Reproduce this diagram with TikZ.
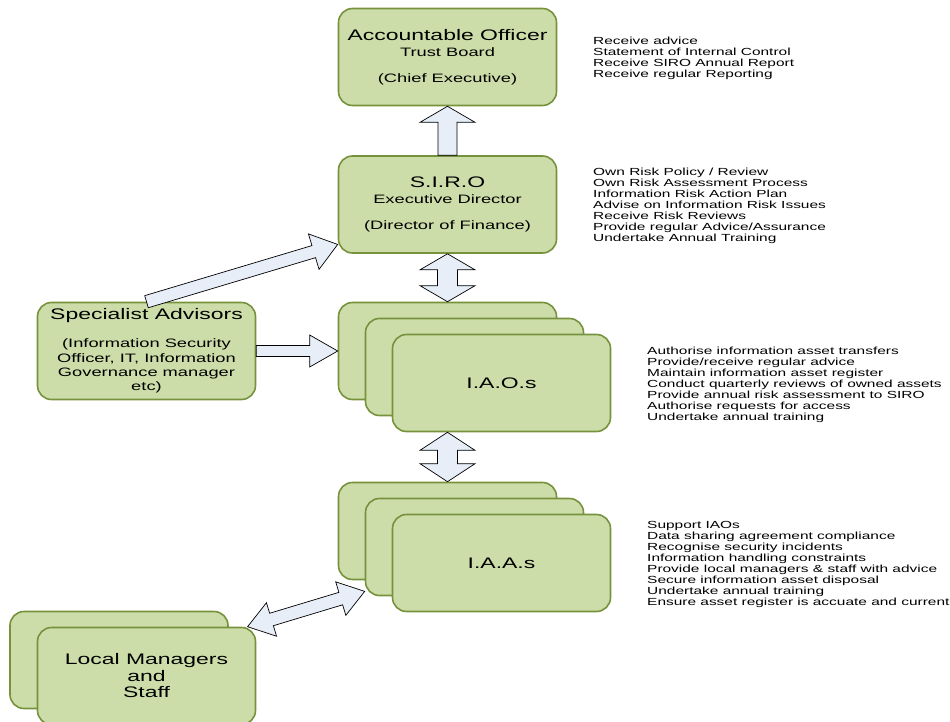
\documentclass[tikz,border=0pt]{standalone}
\usepackage{fontspec}
\setmainfont[FakeStretch=1.5]{Liberation Sans}
\usetikzlibrary{calc}
\definecolor{boxfill}{RGB}{205,221,169}
\definecolor{boxline}{RGB}{118,146,60}
\definecolor{arrowfill}{RGB}{232,238,248}
\tikzset{
    box/.style={draw=boxline, fill=boxfill, line width=1.6pt, rounded corners=14pt,
        minimum width=218pt, minimum height=97pt, inner sep=0pt, align=center,
        font=\fontsize{12.2}{13}\selectfont},
    duty/.style={anchor=west, inner sep=0pt, align=left, font=\fontsize{10.3}{11}\selectfont},
    arrowbody/.style={draw=black, line width=0.7pt, fill=arrowfill, line join=miter}
}
\newcommand{\bigtext}[1]{{\fontsize{15.3}{16}\selectfont #1}}
% block arrows: shaft half width, head half width, head length, from, to
\newcommand{\singlearrow}[5]{%
    \coordinate (ba) at (#4);
    \coordinate (bb) at (#5);
    \coordinate (bc) at ($(bb)!#3!(ba)$);
    \draw[arrowbody] ($(ba)!#1!90:(bb)$) -- ($(bc)!#1!-90:(ba)$) -- ($(bc)!#2!-90:(ba)$)
        -- (bb) -- ($(bc)!#2!90:(ba)$) -- ($(bc)!#1!90:(ba)$) -- ($(ba)!#1!-90:(bb)$) -- cycle;
}
\newcommand{\doublearrow}[5]{%
    \coordinate (ba) at (#4);
    \coordinate (bb) at (#5);
    \coordinate (bc) at ($(bb)!#3!(ba)$);
    \coordinate (bd) at ($(ba)!#3!(bb)$);
    \draw[arrowbody] (ba) -- ($(bd)!#2!-90:(bb)$) -- ($(bd)!#1!-90:(bb)$) -- ($(bc)!#1!90:(ba)$)
        -- ($(bc)!#2!90:(ba)$) -- (bb) -- ($(bc)!#2!-90:(ba)$) -- ($(bc)!#1!-90:(ba)$)
        -- ($(bd)!#1!90:(bb)$) -- ($(bd)!#2!90:(bb)$) -- cycle;
}
\begin{document}
\begin{tikzpicture}[x=1pt, y=-1pt]
    \useasboundingbox (0,0) rectangle (950,722);
    \clip (0,0) rectangle (950,722);

    \node[box] (ao) at (447.5,57) {\bigtext{Accountable Officer}\\[3pt] Trust Board\\[13pt] (Chief Executive)};
    \node[box] (siro) at (447.5,204.5) {\bigtext{S.I.R.O}\\[3pt] Executive Director\\[13pt] (Director of Finance)};

    \node[box] (iao1) at (447.5,351) {};
    \node[box] (iao2) at (474.5,367) {};
    \node[box, font=\fontsize{15.3}{16}\selectfont] (iao3) at (501.5,383) {I.A.O.s};

    \node[box] (iaa1) at (447.5,531) {};
    \node[box] (iaa2) at (474.5,547) {};
    \node[box, font=\fontsize{15.3}{16}\selectfont] (iaa3) at (501.5,563) {I.A.A.s};

    \node[box, font=\fontsize{12.2}{14.3}\selectfont] (spec) at (146.5,351)
        {\bigtext{Specialist Advisors}\\[13.7pt] (Information Security\\ Officer, IT, Information\\ Governance manager\\ etc)};

    \node[box] (lm1) at (119,660) {};
    \node[box, font=\fontsize{15.3}{16.5}\selectfont] (lm2) at (146.5,676) {Local Managers\\ and\\ Staff};

    \node[duty] (aoduty) at (593,58.5) {Receive advice\\ Statement of Internal Control\\
        Receive SIRO Annual Report\\ Receive regular Reporting};
    \node[duty] (siroduty) at (593,206) {Own Risk Policy / Review\\ Own Risk Assessment Process\\
        Information Risk Action Plan\\ Advise on Information Risk Issues\\ Receive Risk Reviews\\
        Provide regular Advice/Assurance\\ Undertake Annual Training};
    \node[duty] (iaoduty) at (647,385) {Authorise information asset transfers\\
        Provide/receive regular advice\\ Maintain information asset register\\
        Conduct quarterly reviews of owned assets\\ Provide annual risk assessment to SIRO\\
        Authorise requests for access\\ Undertake annual training};
    \node[duty] (iaaduty) at (647,564.5) {Support IAOs\\ Data sharing agreement compliance\\
        Recognise security incidents\\ Information handling constraints\\
        Provide local managers \& staff with advice\\ Secure information asset disposal\\
        Undertake annual training\\ Ensure asset register is accuate and current};

    \singlearrow{9.5pt}{27.5pt}{16pt}{siro.north}{ao.south}
    \doublearrow{10pt}{27.5pt}{16pt}{siro.south}{iao1.north}
    \doublearrow{10pt}{27.5pt}{18pt}{iao1.south |- iao3.south}{iaa1.north}
    \singlearrow{5.5pt}{16pt}{28pt}{spec.east}{iao1.west}
    \singlearrow{6.3pt}{18.5pt}{25pt}{spec.north}{siro.200}
    \doublearrow{6.5pt}{17.5pt}{25pt}{lm2.26}{iaa2.202}
\end{tikzpicture}
\end{document}
